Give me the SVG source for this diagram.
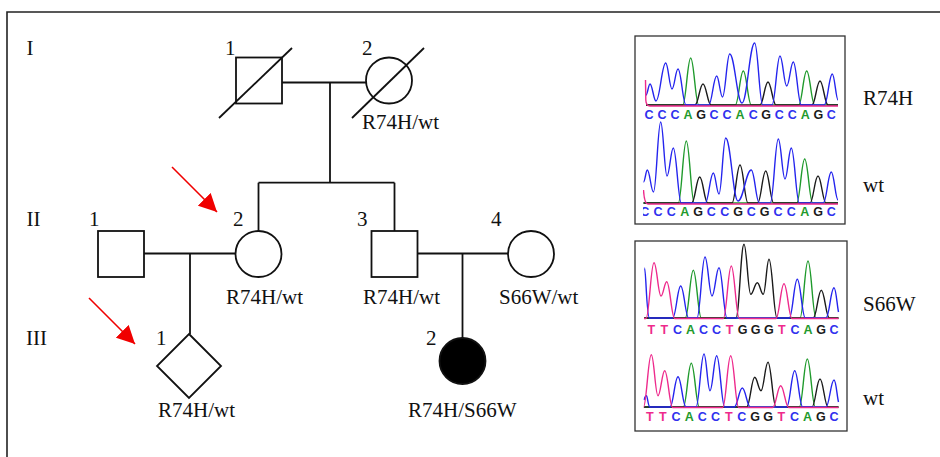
<svg xmlns="http://www.w3.org/2000/svg" width="940" height="457" viewBox="0 0 940 457">
<style>
.t{font-family:"Liberation Serif","Times New Roman",serif;font-size:21px;fill:#111}
.sym{fill:#fff;stroke:#111;stroke-width:1.8}
.ln{stroke:#111;stroke-width:1.8;fill:none}
.red{stroke:#f00000;stroke-width:1.6;fill:none}
.box{fill:#fff;stroke:#333;stroke-width:1.3}
.tr{fill:none;stroke-width:1.4;stroke-linejoin:round}
.b{stroke:#2424ee}.g{stroke:#1f9a2c}.k{stroke:#1a1a1a}.p{stroke:#ee2a8c}
.nt{font-family:"Liberation Sans",Arial,sans-serif;font-size:12.5px;font-weight:bold;text-anchor:middle}
.C{fill:#3030ee}.A{fill:#1f9a2c}.G{fill:#1a1a1a}.T{fill:#ee2a8c}
</style>
<defs>
<marker id="ah" viewBox="0 0 18 18" refX="18" refY="9" markerWidth="18" markerHeight="18" markerUnits="userSpaceOnUse" orient="auto">
<path d="M0,0 L18,9 L0,18 z" fill="#f00000"/>
</marker>
<clipPath id="c1"><rect x="643" y="36" width="202" height="188"/></clipPath>
<clipPath id="c2"><rect x="643.5" y="241" width="203" height="190"/></clipPath>
</defs>
<rect x="0" y="0" width="940" height="457" fill="#fff"/>
<path d="M7,457 L7,12 L940,12" fill="none" stroke="#222" stroke-width="1.6"/>

<g id="connectors">
<path class="ln" d="M282,82.5 L366,82.5"/>
<path class="ln" d="M330,82.5 L330,182.7"/>
<path class="ln" d="M258.5,182.7 L394.5,182.7"/>
<path class="ln" d="M258.5,182.7 L258.5,231"/>
<path class="ln" d="M394.5,182.7 L394.5,231"/>
<path class="ln" d="M144,253.5 L235.5,253.5"/>
<path class="ln" d="M190,253.5 L190,334"/>
<path class="ln" d="M417.5,253.5 L508,253.5"/>
<path class="ln" d="M462.5,253.5 L462.5,338"/>
<path class="red" d="M172,167 L217,212" marker-end="url(#ah)"/>
<path class="red" d="M89,298 L135,344" marker-end="url(#ah)"/>
</g>

<g id="gen-labels">
<text class="t" x="26.5" y="55">I</text>
<text class="t" x="26.5" y="226">II</text>
<text class="t" x="26" y="345">III</text>
</g>

<g id="I-1">
<rect class="sym" x="236" y="57.5" width="46" height="46"/>
<path class="ln" d="M219,118 L292,48"/>
<text class="t" x="225" y="55">1</text>
</g>
<g id="I-2">
<circle class="sym" cx="389" cy="80.5" r="23"/>
<path class="ln" d="M352,118 L424,48"/>
<text class="t" x="362" y="55">2</text>
<text class="t" x="362" y="128.5">R74H/wt</text>
</g>
<g id="II-1">
<rect class="sym" x="98" y="231" width="46" height="46"/>
<text class="t" x="89" y="226">1</text>
</g>
<g id="II-2">
<circle class="sym" cx="258.5" cy="254" r="23"/>
<text class="t" x="233" y="226">2</text>
<text class="t" x="226" y="304">R74H/wt</text>
</g>
<g id="II-3">
<rect class="sym" x="371.5" y="231" width="46" height="46"/>
<text class="t" x="357" y="226">3</text>
<text class="t" x="363" y="304">R74H/wt</text>
</g>
<g id="II-4">
<circle class="sym" cx="531" cy="254" r="23"/>
<text class="t" x="491" y="226">4</text>
<text class="t" x="499" y="304">S66W/wt</text>
</g>
<g id="III-1">
<path class="sym" d="M189,334 L221,366 L189,398 L157,366 z"/>
<text class="t" x="156" y="345">1</text>
<text class="t" x="158" y="417">R74H/wt</text>
</g>
<g id="III-2">
<circle cx="462.5" cy="361" r="23" fill="#000" stroke="#111" stroke-width="1.8"/>
<text class="t" x="426" y="345">2</text>
<text class="t" x="408" y="417">R74H/S66W</text>
</g>

<g id="seq-R74H">
<rect class="box" x="635" y="36" width="210" height="188"/>
<g clip-path="url(#c1)">
<path class="tr g" d="M646,105 L682.7,105 C685.9,105 687.5,58 690.7,58 C693.9,58 695.5,105 698.7,105 L735.3,105 C738.5,105 740.1,71 743.3,71 C746.5,71 748.1,105 751.3,105 L798.7,105 C801.9,105 803.5,71 806.7,71 C809.9,71 811.5,105 814.7,105 L838,105"/>
<path class="tr k" d="M646,105 L695,105 C698.2,105 699.8,84 703,84 C706.2,84 707.8,105 711,105 L760,105 C763.2,105 764.8,82 768,82 C771.2,82 772.8,105 776,105 L812,105 C815.2,105 816.8,81 820,81 C823.2,81 824.8,105 828,105 L838,105"/>
<path class="tr b" d="M646,95 C647.5,95 648.5,84 650,84 C652.4,84 653.6,101 656,101 C659.9,101 661.8,63 665.7,63 C668.2,63 669.5,89 672,89 C674.4,89 675.6,69 678,69 C681.2,69 682.8,105 686,105 L708.7,105 C711.9,105 713.5,76 716.7,76 C719,76 720.2,97 722.5,97 C725.4,97 726.8,54 729.7,54 C734.6,54 737.1,103 742,103 C747.1,103 749.6,43 754.7,43 C757.9,43 759.5,105 762.7,105 L772,105 C775.2,105 776.8,56 780,56 C782.7,56 784,86 786.7,86 C789.4,86 790.6,62 793.3,62 C796.5,62 798.1,105 801.3,105 L824.3,105 C827.5,105 829.1,74 832.3,74 C834.6,74 836,100 838,100"/>
<path class="tr p" d="M645.5,80 L645.8,100 C646,104 647,106 650,106 L838,106"/>
<path class="tr g" d="M643.5,203 L678.3,203 C681.5,203 683.1,141 686.3,141 C689.5,141 691.1,203 694.3,203 L796.7,203 C799.9,203 801.5,159 804.7,159 C807.9,159 809.5,203 812.7,203 L838,203"/>
<path class="tr k" d="M643.5,203 L691.7,203 C694.9,203 696.5,177 699.7,177 C702.9,177 704.5,203 707.7,203 L732,203 C735.2,203 736.8,165 740,165 C743.2,165 744.8,203 748,203 L757.7,203 C760.9,203 762.5,171 765.7,171 C768.9,171 770.5,203 773.7,203 L810,203 C813.2,203 814.8,176 818,176 C821.2,176 822.8,203 826,203 L838,203"/>
<path class="tr b" d="M643.5,182 C645,182 645.9,170 647.3,170 C649.8,170 651,192 653.5,192 C656.4,192 657.8,122 660.7,122 C663.2,122 664.5,176 667,176 C669.5,176 670.8,148 673.3,148 C676.5,148 678.1,203 681.3,203 L705.3,203 C708.5,203 710.1,173 713.3,173 C715.6,173 716.7,194 719,194 C721.7,194 723,138 725.7,138 C730.6,138 733.1,201 738,201 C743.3,201 746,170 751.3,170 C754.5,170 756.1,203 759.3,203 L770.3,203 C773.5,203 775.1,139 778.3,139 C781,139 782.3,179 785,179 C787.5,179 788.8,148 791.3,148 C794.5,148 796.1,203 799.3,203 L823.3,203 C826.5,203 828.1,172 831.3,172 C834,172 835.5,200 838,200"/>
<path class="tr p" d="M643.5,190 C644,198 645,204 648,204 L838,204"/>
<g class="nt">
<text x="649" y="118.5" class="C">C</text><text x="662" y="118.5" class="C">C</text><text x="675" y="118.5" class="C">C</text><text x="688.1" y="118.5" class="A">A</text><text x="701.1" y="118.5" class="G">G</text><text x="714.1" y="118.5" class="C">C</text><text x="727.1" y="118.5" class="C">C</text><text x="740.1" y="118.5" class="A">A</text><text x="753.2" y="118.5" class="C">C</text><text x="766.2" y="118.5" class="G">G</text><text x="779.2" y="118.5" class="C">C</text><text x="792.2" y="118.5" class="C">C</text><text x="805.2" y="118.5" class="A">A</text><text x="818.3" y="118.5" class="G">G</text><text x="831.3" y="118.5" class="C">C</text>
<text x="644.7" y="215.5" class="C">C</text><text x="658" y="215.5" class="C">C</text><text x="671.3" y="215.5" class="C">C</text><text x="684.7" y="215.5" class="A">A</text><text x="698" y="215.5" class="G">G</text><text x="711.3" y="215.5" class="C">C</text><text x="724.7" y="215.5" class="C">C</text><text x="738" y="215.5" class="G">G</text><text x="751.3" y="215.5" class="C">C</text><text x="764.7" y="215.5" class="G">G</text><text x="778" y="215.5" class="C">C</text><text x="791.3" y="215.5" class="C">C</text><text x="804.7" y="215.5" class="A">A</text><text x="818" y="215.5" class="G">G</text><text x="831.3" y="215.5" class="C">C</text>
</g>
</g>
<text class="t" x="863" y="105">R74H</text>
<text class="t" x="863" y="191.5">wt</text>
</g>

<g id="seq-S66W">
<rect class="box" x="635" y="241" width="212" height="190"/>
<g clip-path="url(#c2)">
<path class="tr g" d="M644,318 L685.3,318 C688.5,318 690.1,270.3 693.3,270.3 C696.5,270.3 698.1,318 701.3,318 L800,318 C803.2,318 804.8,261 808,261 C811.2,261 812.8,318 816,318 L838.5,318"/>
<path class="tr k" d="M644,318 L736,318 C739.2,318 740.8,244.3 744,244.3 C746.7,244.3 748,294.3 750.7,294.3 C753.3,294.3 754.7,282.7 757.3,282.7 C759.7,282.7 760.9,294.3 763.3,294.3 C765.6,294.3 766.7,259.3 769,259.3 C772.2,259.3 773.8,318 777,318 L813.3,318 C816.5,318 818.1,290.3 821.3,290.3 C824.5,290.3 826.1,318 829.3,318 L838.5,318"/>
<path class="tr b" d="M644.5,268 C646,268 646.5,318 649.5,318 L672.7,318 C675.9,318 677.5,286 680.7,286 C683.9,286 685.5,318 688.7,318 L697,318 C700.2,318 701.8,257 705,257 C707.8,257 709.2,296 712,296 C714.8,296 716.2,267.7 719,267.7 C722.2,267.7 723.8,318 727,318 L789.3,318 C792.5,318 794.1,279.3 797.3,279.3 C800.5,279.3 802.1,318 805.3,318 L826,318 C829.2,318 830.8,287.7 834,287.7 C836,287.7 837,305 838.5,312"/>
<path class="tr p" d="M644,318.5 L646,318.5 C649.2,318.5 650.8,262.7 654,262.7 C656.8,262.7 658.2,296 661,296 C663.3,296 664.4,281.7 666.7,281.7 C669.9,281.7 671.5,318.5 674.7,318.5 L723.3,318.5 C726.5,318.5 728.1,266 731.3,266 C734.5,266 736.1,318.5 739.3,318.5 L776,318.5 C779.2,318.5 780.8,283.7 784,283.7 C787.2,283.7 788.8,318.5 792,318.5 L838.5,318.5"/>
<path class="tr g" d="M644,407 L683.3,407 C686.5,407 688.1,363.3 691.3,363.3 C694.5,363.3 696.1,407 699.3,407 L799.3,407 C802.5,407 804.1,359 807.3,359 C810.5,359 812.1,407 815.3,407 L838.5,407"/>
<path class="tr k" d="M644,407 L746.7,407 C749.9,407 751.5,377.3 754.7,377.3 C757.2,377.3 758.5,390.7 761,390.7 C763.8,390.7 765.2,362.3 768,362.3 C771.2,362.3 772.8,407 776,407 L812,407 C815.2,407 816.8,379 820,379 C823.2,379 824.8,407 828,407 L838.5,407"/>
<path class="tr b" d="M644,400 C645,396 646,395.7 646.5,395.7 C647.5,395.7 648,407 650,407 L670,407 C673.2,407 674.8,376.7 678,376.7 C681.2,376.7 682.8,407 686,407 L696,407 C699.2,407 700.8,354 704,354 C706.4,354 707.6,390.7 710,390.7 C712.7,390.7 714,355.7 716.7,355.7 C719.9,355.7 721.5,407 724.7,407 L734.3,407 C737.5,407 739.1,388 742.3,388 C745.5,388 747.1,407 750.3,407 L786.7,407 C789.9,407 791.5,370.7 794.7,370.7 C797.9,370.7 799.5,407 802.7,407 L826,407 C829.2,407 830.8,380 834,380 C836,380 837,396 838.5,402"/>
<path class="tr p" d="M643.3,407.5 C646.5,407.5 648.1,354.7 651.3,354.7 C654,354.7 655.3,395.7 658,395.7 C660.7,395.7 662,370.7 664.7,370.7 C667.9,370.7 669.5,407.5 672.7,407.5 L722.7,407.5 C725.9,407.5 727.5,355.7 730.7,355.7 C733.9,355.7 735.5,407.5 738.7,407.5 L772.7,407.5 C775.9,407.5 777.5,385.7 780.7,385.7 C783.9,385.7 785.5,407.5 788.7,407.5 L838.5,407.5"/>
<g class="nt">
<text x="651.3" y="333.5" class="T">T</text><text x="664.4" y="333.5" class="T">T</text><text x="677.4" y="333.5" class="C">C</text><text x="690.5" y="333.5" class="A">A</text><text x="703.5" y="333.5" class="C">C</text><text x="716.6" y="333.5" class="C">C</text><text x="729.6" y="333.5" class="T">T</text><text x="742.7" y="333.5" class="G">G</text><text x="755.7" y="333.5" class="G">G</text><text x="768.8" y="333.5" class="G">G</text><text x="781.8" y="333.5" class="T">T</text><text x="794.9" y="333.5" class="C">C</text><text x="807.9" y="333.5" class="A">A</text><text x="821" y="333.5" class="G">G</text><text x="834" y="333.5" class="C">C</text>
<text x="649.7" y="421" class="T">T</text><text x="662.9" y="421" class="T">T</text><text x="676" y="421" class="C">C</text><text x="689.2" y="421" class="A">A</text><text x="702.3" y="421" class="C">C</text><text x="715.5" y="421" class="C">C</text><text x="728.7" y="421" class="T">T</text><text x="741.8" y="421" class="C">C</text><text x="755" y="421" class="G">G</text><text x="768.1" y="421" class="G">G</text><text x="781.3" y="421" class="T">T</text><text x="794.5" y="421" class="C">C</text><text x="807.6" y="421" class="A">A</text><text x="820.8" y="421" class="G">G</text><text x="834" y="421" class="C">C</text>
</g>
</g>
<text class="t" x="863" y="310.5">S66W</text>
<text class="t" x="863" y="405">wt</text>
</g>
</svg>
